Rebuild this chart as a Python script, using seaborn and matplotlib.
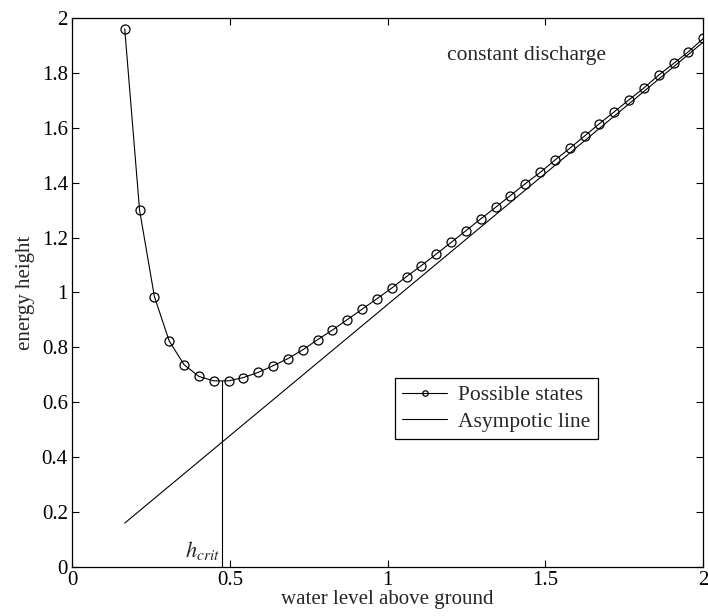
"""Specific energy curve for a constant discharge."""

import matplotlib
matplotlib.use("Agg")
import matplotlib.pyplot as plt
from matplotlib.ticker import FormatStrFormatter, MultipleLocator
import seaborn as sns

# water level h and energy height E
water_level = [
  0.167, 0.214, 0.261, 0.308, 0.355, 0.402, 0.449, 0.496, 0.543, 0.590,
  0.637, 0.684, 0.731, 0.778, 0.825, 0.872, 0.919, 0.966, 1.013, 1.060,
  1.107, 1.154, 1.201, 1.248, 1.295, 1.342, 1.389, 1.436, 1.483, 1.530,
  1.577, 1.624, 1.671, 1.718, 1.765, 1.812, 1.859, 1.906, 1.953, 2.000,
]
energy_height = [
  1.960, 1.300, 0.985, 0.823, 0.737, 0.694, 0.678, 0.678, 0.690, 0.709,
  0.733, 0.759, 0.791, 0.828, 0.863, 0.901, 0.939, 0.977, 1.016, 1.058,
  1.098, 1.140, 1.182, 1.225, 1.268, 1.310, 1.353, 1.396, 1.437, 1.482,
  1.525, 1.570, 1.615, 1.658, 1.702, 1.745, 1.792, 1.834, 1.877, 1.925,
]
asym_x = [0.167, 2.000]
asym_y = [0.160, 1.912]

h_crit = 0.474
e_min = 0.678

sns.set_theme(style="ticks")
plt.rcParams["font.family"] = ["Liberation Serif", "DejaVu Serif"]
plt.rcParams["mathtext.fontset"] = "stix"
plt.rcParams["xtick.direction"] = "in"
plt.rcParams["ytick.direction"] = "in"

fig = plt.figure(figsize=(7.08, 6.16), dpi=100)
ax = fig.add_axes([0.1017, 0.0795, 0.8917, 0.8915])

sns.lineplot(
  x=water_level,
  y=energy_height,
  color="black",
  linewidth=0.8,
  marker="o",
  markersize=6.5,
  markerfacecolor="none",
  markeredgecolor="black",
  markeredgewidth=0.9,
  label="Possible states",
  ax=ax,
  sort=False,
)
sns.lineplot(
  x=asym_x,
  y=asym_y,
  color="black",
  linewidth=0.8,
  label="Asympotic line",
  ax=ax,
  sort=False,
)

# critical depth marker
ax.plot([h_crit, h_crit], [0, e_min], color="black", linewidth=0.8)
ax.text(h_crit - 0.006, 0.035, r"$h_{crit}$", fontsize=16, ha="right", va="baseline")

ax.text(1.187, 1.862, "constant discharge", fontsize=15.5, va="center")

# Formatting
ax.set_xlim(0, 2)
ax.set_ylim(0, 2)
ax.xaxis.set_major_locator(MultipleLocator(0.5))
ax.yaxis.set_major_locator(MultipleLocator(0.2))
ax.xaxis.set_major_formatter(FormatStrFormatter("%g"))
ax.yaxis.set_major_formatter(FormatStrFormatter("%g"))
ax.tick_params(
  which="both", top=True, right=True, length=5, width=0.8,
  labelsize=15, color="black", labelcolor="black", pad=3,
)
for spine in ax.spines.values():
  spine.set_color("black")
  spine.set_linewidth(0.9)
ax.set_xlabel("water level above ground", fontsize=15, labelpad=0)
ax.set_ylabel("energy height", fontsize=15, labelpad=5)

leg = ax.legend(
  loc="upper left",
  bbox_to_anchor=(0.511, 0.345),
  borderaxespad=0,
  fancybox=False,
  edgecolor="black",
  framealpha=1,
  fontsize=15.5,
  markerscale=0.6,
  handlelength=2.1,
  borderpad=0.35,
  labelspacing=0.3,
  handletextpad=0.5,
)
leg.get_frame().set_linewidth(0.9)

fig.savefig("out.png", dpi=100)
